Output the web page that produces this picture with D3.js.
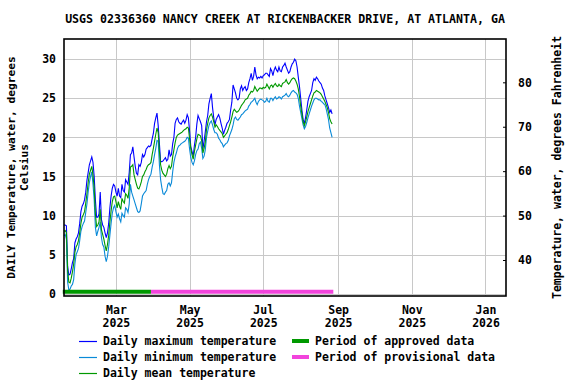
<!DOCTYPE html>
<html><head><meta charset="utf-8">
<script src="https://cdn.jsdelivr.net/npm/d3@7"></script>
<style>
html,body{margin:0;padding:0;background:#fff;}
svg text{font-family:'DejaVu Sans Mono','Liberation Mono',monospace;font-weight:bold;fill:#000;}
</style></head>
<body><svg id="c" width="576" height="384"></svg>
<script>
const title = "USGS 02336360 NANCY CREEK AT RICKENBACKER DRIVE, AT ATLANTA, GA";
const startDate = "2025-01-17";
const maxTemp = [
8.8, 8.8, 8.7, 3.5, 2.4, 2.5, 3.2, 4.0, 4.5, 6.5,
7.0, 7.3, 7.8, 9.0, 10.5, 11.2, 11.5, 12.0, 13.0, 14.5,
15.5, 16.5, 17.0, 17.5, 16.8, 15.0, 12.0, 9.8, 9.8, 10.2,
13.0, 9.5, 8.8, 8.5, 7.8, 7.2, 7.8, 9.0, 11.0, 12.5,
13.5, 14.0, 13.8, 13.0,
12.5, 13.5, 12.5, 12.3, 14.0, 13.2,
13.0, 14.6, 14.3, 14.0, 15.5, 17.8, 18.0, 18.8, 17.5, 16.3,
15.4, 15.2, 16.5, 16.3, 16.8, 17.8, 17.5, 17.8, 18.5, 18.7,
18.9, 18.8, 19.0, 19.8, 20.5, 21.8, 22.5, 23.1, 21.5, 19.2,
16.9, 16.9, 17.0, 17.2, 17.4, 17.0, 17.2, 18.4, 17.6, 17.8,
19.2, 20.0, 21.8, 22.3, 22.5, 22.0, 21.8, 21.7, 22.0, 22.2,
21.8, 22.2, 22.9, 22.5, 20.8, 18.8, 18.2, 17.6, 19.0, 20.0,
21.7, 22.8, 22.4, 22.0, 21.5, 18.5, 19.5, 20.7, 22.0, 22.8,
24.3, 25.0, 25.6, 23.8, 22.5, 21.6, 22.3, 22.6, 22.9, 22.5,
21.8, 21.2, 20.4, 20.9, 21.3, 21.8, 22.0, 22.3, 23.5, 24.5,
26.7, 26.2, 25.7, 25.0, 24.8, 25.0, 26.2, 26.6, 26.0, 26.3,
26.5, 26.0, 26.2, 27.0, 27.5, 28.2, 27.3, 27.8, 29.0, 28.0,
27.5, 27.7, 27.6, 27.8, 27.6, 27.9, 28.0, 28.2, 28.2, 28.0,
27.8, 28.8, 28.5, 27.9, 28.6, 29.0, 28.6, 28.4, 29.0, 28.5,
28.4, 29.0, 29.2, 29.5, 29.0, 28.6, 28.2, 28.4, 29.0, 29.4,
29.6, 30.0, 29.8, 29.0, 27.7, 26.5, 25.0, 23.5, 22.3, 21.8,
22.5, 23.5, 24.6, 25.2, 25.6, 26.0, 27.0, 27.5, 27.3, 27.7,
27.5, 27.2, 27.0, 26.8, 26.3, 26.0, 25.3, 24.8, 24.3, 23.8,
23.2, 23.5, 23.0];
const meanTemp = [
8.0, 8.1, 7.8, 3.0, 1.5, 1.4, 2.0, 2.8, 3.8, 5.3,
6.0, 6.3, 6.8, 7.8, 9.0, 9.8, 10.1, 10.5, 11.6, 12.8,
14.2, 15.3, 15.8, 16.3, 15.2, 13.5, 10.2, 8.6, 8.8, 9.2,
10.8, 8.2, 7.6, 7.0, 6.2, 5.5, 6.3, 7.5, 9.2, 10.6,
11.8, 12.4, 12.5, 11.8,
11.0, 11.8, 11.2, 10.8, 12.2, 11.8,
11.6, 12.8, 12.6, 12.2, 13.5, 16.2, 16.3, 16.5, 15.2, 14.6,
14.0, 13.5, 13.4, 13.8, 14.3, 15.0, 15.2, 15.6, 15.9, 16.3,
16.5, 16.6, 16.8, 17.8, 18.6, 19.5, 20.4, 21.2, 20.6, 18.3,
16.5, 15.8, 15.4, 15.2, 15.0, 15.3, 16.0, 16.4, 16.0, 16.3,
17.5, 18.4, 19.3, 20.0, 20.3, 20.4, 20.5, 20.6, 20.7, 20.9,
21.0, 21.1, 21.3, 21.2, 19.8, 18.6, 17.8, 17.2, 18.2, 19.0,
19.8, 20.4, 20.3, 20.2, 19.6, 18.0, 18.6, 19.4, 21.0, 21.8,
22.5, 22.8, 23.0, 22.6, 22.0, 21.3, 21.6, 21.4, 21.1, 20.9,
20.7, 20.5, 20.0, 20.2, 20.4, 20.6, 21.0, 21.5, 22.0, 22.6,
23.3, 23.6, 23.4, 23.2, 23.3, 23.5, 23.8, 24.1, 24.3, 24.5,
24.8, 24.9, 25.0, 25.4, 25.6, 25.9, 25.8, 26.0, 26.5, 26.2,
25.9, 26.1, 26.3, 26.3, 26.2, 26.4, 26.3, 26.4, 26.8, 26.5,
26.2, 26.6, 26.7, 26.4, 26.7, 26.9, 26.6, 26.5, 26.8, 26.6,
26.5, 26.9, 27.0, 27.1, 27.4, 27.0, 26.8, 27.0, 27.3, 27.5,
27.6, 27.5, 27.2, 26.8, 26.2, 25.2, 24.0, 23.0, 22.0, 21.5,
22.0, 22.6, 23.3, 23.8, 24.3, 24.8, 25.3, 25.7, 25.8, 26.0,
25.9, 25.8, 25.7, 25.5, 25.2, 24.9, 24.6, 24.2, 23.8, 23.2,
22.4, 22.0, 21.7];
const minTemp = [
7.4, 7.6, 7.0, 1.5, 0.5, 0.6, 1.0, 1.2, 1.8, 3.8,
5.0, 5.4, 5.8, 6.8, 8.0, 8.6, 9.0, 9.3, 10.4, 11.5,
13.0, 14.2, 15.0, 15.6, 14.0, 12.0, 8.5, 7.4, 8.0, 8.5,
9.2, 7.2, 6.3, 6.0, 4.8, 4.1, 4.8, 6.0, 7.5, 9.0,
10.3, 11.0, 11.3, 10.5,
9.8, 10.2, 9.6, 9.2, 10.3, 10.0,
9.8, 11.0, 10.8, 10.4, 11.5, 14.0, 13.0, 12.5, 12.0, 11.5,
11.0, 10.5, 10.4, 10.6, 11.5, 12.5, 12.8, 13.0, 13.2, 14.0,
14.6, 15.0, 15.3, 16.2, 16.9, 17.8, 18.6, 19.6, 19.5, 16.5,
14.6, 13.6, 12.8, 12.7, 13.0, 13.2, 14.0, 14.2, 13.8, 14.2,
15.6, 16.8, 17.5, 18.0, 18.6, 18.9, 19.0, 19.2, 19.3, 19.4,
19.5, 19.7, 20.0, 19.9, 18.5, 17.4, 16.8, 16.5, 17.0, 17.8,
18.3, 18.5, 19.2, 19.4, 18.6, 17.3, 17.6, 18.4, 20.0, 20.8,
21.5, 21.9, 22.1, 21.6, 21.0, 20.6, 20.6, 20.4, 19.9, 19.7,
19.4, 19.2, 18.8, 19.0, 19.2, 19.3, 19.6, 20.2, 20.6, 21.0,
21.6, 22.4, 22.6, 22.3, 22.2, 22.4, 22.6, 22.9, 23.0, 23.2,
23.4, 23.5, 23.6, 24.0, 24.2, 24.5, 24.6, 24.8, 25.0, 24.5,
24.2, 24.6, 24.8, 24.9, 24.8, 24.7, 24.5, 24.6, 25.0, 24.6,
24.5, 25.0, 25.0, 24.7, 25.0, 25.2, 24.9, 25.0, 25.2, 25.1,
24.9, 25.2, 25.3, 25.4, 25.6, 25.3, 25.2, 25.4, 25.7, 25.9,
26.0, 25.8, 25.7, 25.5, 25.0, 24.0, 23.2, 22.4, 21.6, 21.1,
21.4, 21.9, 22.5, 23.0, 23.5, 24.0, 24.4, 24.8, 25.0, 25.0,
24.9, 24.8, 24.8, 24.6, 24.5, 24.3, 24.2, 23.7, 23.0, 22.3,
21.2, 20.6, 20.0];
const celsiusTicks = [0, 5, 10, 15, 20, 25, 30];
const fahrenheitTicks = [40, 50, 60, 70, 80];
const xTickDates = ["2025-03-01","2025-05-01","2025-07-01","2025-09-01","2025-11-01","2026-01-01"];
const approvedPeriod = ["2025-01-16", "2025-03-30"];
const provisionalPeriod = ["2025-03-30", "2025-08-28"];
const xDomain = ["2025-01-17", "2026-01-18"];
const celsiusDomain = [-0.28, 32.58];
const fahrenheitDomain = [31.9, 89.75];
const seriesLabels = ["Daily maximum temperature","Daily minimum temperature","Daily mean temperature"];
const periodLabels = ["Period of approved data","Period of provisional data"];

const P = d => new Date(d + "T00:00:00Z");
const day0 = P(startDate);
const mk = arr => arr.map((v,i)=>({date:new Date(day0.getTime()+i*86400000), v}));

const L=64, R=506, T=39, B=296;
const svg = d3.select("#c");
const x = d3.scaleUtc().domain(xDomain.map(P)).range([L,R]);
const yC = d3.scaleLinear().domain(celsiusDomain).range([B,T]);
const yF = d3.scaleLinear().domain(fahrenheitDomain).range([B,T]);
const FS = "11.5px";

// title
svg.append("text").attr("x",(L+R)/2).attr("y",23).attr("text-anchor","middle")
  .style("font-size","11.6px").text(title);

// grid
const g = svg.append("g");
g.selectAll(".hg").data(celsiusTicks).join("line")
  .attr("x1",L).attr("x2",R).attr("y1",d=>Math.round(yC(d))+0.5).attr("y2",d=>Math.round(yC(d))+0.5)
  .attr("stroke","#c8c8c8").attr("stroke-width",1);
g.selectAll(".vg").data(xTickDates.map(P)).join("line")
  .attr("y1",T).attr("y2",B).attr("x1",d=>Math.round(x(d))+0.5).attr("x2",d=>Math.round(x(d))+0.5)
  .attr("stroke","#c8c8c8").attr("stroke-width",1);

// left axis
const la = svg.append("g").attr("transform",`translate(${L},0)`)
  .call(d3.axisLeft(yC).tickValues(celsiusTicks).tickSize(0).tickPadding(8));
la.select(".domain").remove();
la.selectAll("text").style("font-size",FS).style("font-family",null);

// right axis
const ra = svg.append("g").attr("transform",`translate(${R},0)`)
  .call(d3.axisRight(yF).tickValues(fahrenheitTicks).tickSizeInner(-3).tickSizeOuter(0).tickPadding(12));
ra.select(".domain").remove();
ra.selectAll("line").attr("stroke","#000");
ra.selectAll("text").style("font-size",FS).style("font-family",null);

// bottom axis
const ba = svg.append("g").attr("transform",`translate(0,${B})`)
  .call(d3.axisBottom(x).tickValues(xTickDates.map(P)).tickSize(0).tickFormat(()=>""));
ba.select(".domain").remove();
ba.selectAll(".tick text").each(function(d){
  const t = d3.select(this).attr("y",null).attr("dy",null).style("font-size",FS).style("font-family",null);
  t.append("tspan").attr("x",0).attr("y",18).text(d3.utcFormat("%b")(d));
  t.append("tspan").attr("x",0).attr("y",31).text(d3.utcFormat("%Y")(d));
});

// axis titles
svg.append("text").attr("transform",`translate(15,${(T+B)/2}) rotate(-90)`).attr("text-anchor","middle")
  .style("font-size","11.2px").text("DAILY Temperature, water, degrees");
svg.append("text").attr("transform",`translate(28,${(T+B)/2}) rotate(-90)`).attr("text-anchor","middle")
  .style("font-size","11.2px").text("Celsius");
svg.append("text").attr("transform",`translate(561,${(T+B)/2}) rotate(-90)`).attr("text-anchor","middle")
  .style("font-size",FS).text("Temperature, water, degrees Fahrenheit");

// data
const colors = {max:"#0000ff", min:"#0a8ad8", mean:"#009900"};
const line = d3.line().x(d=>x(d.date)).y(d=>yC(d.v));
const series = [["max",maxTemp],["min",minTemp],["mean",meanTemp]];
series.forEach(([k,arr])=>{
  svg.append("path").datum(mk(arr)).attr("d",line).attr("fill","none")
    .attr("stroke",colors[k]).attr("stroke-width",1.1);
});

// period bars
const barY = 291.8;
svg.append("line").attr("x1",x(P(approvedPeriod[0]))).attr("x2",x(P(approvedPeriod[1])))
  .attr("y1",barY).attr("y2",barY).attr("stroke","#009900").attr("stroke-width",4);
svg.append("line").attr("x1",x(P(provisionalPeriod[0]))).attr("x2",x(P(provisionalPeriod[1])))
  .attr("y1",barY).attr("y2",barY).attr("stroke","#f244dc").attr("stroke-width",4);

// frame
svg.append("rect").attr("x",L).attr("y",T).attr("width",R-L).attr("height",B-T)
  .attr("fill","none").attr("stroke","#000").attr("stroke-width",1.6);

// legend
const legY = [341, 357, 373];
const legC = [colors.max, colors.min, colors.mean];
seriesLabels.forEach((s,i)=>{
  svg.append("line").attr("x1",79).attr("x2",97).attr("y1",legY[i]+0.5).attr("y2",legY[i]+0.5)
    .attr("stroke",legC[i]).attr("stroke-width",1.2);
  svg.append("text").attr("x",103).attr("y",legY[i]+4).style("font-size",FS).text(s);
});
const perC = ["#009900","#f244dc"];
periodLabels.forEach((s,i)=>{
  svg.append("line").attr("x1",292).attr("x2",309).attr("y1",legY[i]).attr("y2",legY[i])
    .attr("stroke",perC[i]).attr("stroke-width",4);
  svg.append("text").attr("x",315).attr("y",legY[i]+4).style("font-size",FS).text(s);
});
</script></body></html>
